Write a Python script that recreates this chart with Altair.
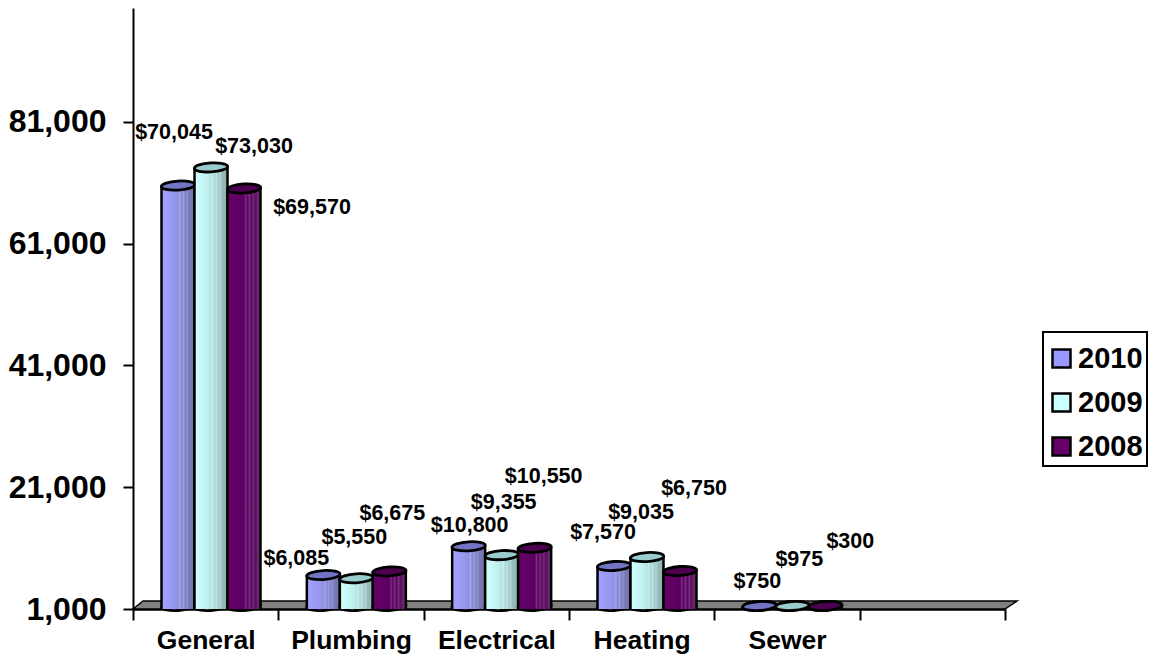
import altair as alt
import pandas as pd

categories = ["General", "Plumbing", "Electrical", "Heating", "Sewer"]
axis_domain = categories + [" "]
series = ["2010", "2009", "2008"]
v2010 = [70045, 6085, 10800, 7570, 750]
v2009 = [73030, 5550, 9355, 9035, 975]
v2008 = [69570, 6675, 10550, 6750, 300]
values = {"2010": v2010, "2009": v2009, "2008": v2008}
# Hand-placed label anchors from the picture (value height, px beside band start)
label_h = {"2010": [79300, 9400, 14800, 13600, 5600],
           "2009": [77000, 12800, 18600, 17000, 9200],
           "2008": [67000, 16800, 22800, 20900, 12200]}
label_dx = {"2010": [41, 18, 46, 34, 43],
            "2009": [121, 76, 80, 72, 85],
            "2008": [179, 114, 120, 125, 136]}
solid = ["#9999FF", "#CCFFFF", "#660066"]
tops = {"2010": "#7274C4", "2009": "#99CCCC", "2008": "#4E0050"}
stop_at = [0, 0.4, 0.5, 0.56, 0.62, 0.68, 0.74, 0.8, 0.86, 1]
stops = {
    "2010": ["#A2A2FF", "#9696EE", "#9090E0", "#A4A4EC", "#8686D0", "#9C9CE0", "#8080C4", "#9090D0", "#7878B8", "#7474AC"],
    "2009": ["#CFFFFF", "#BEF0EF", "#B4E4E2", "#CAEEEC", "#A8D6D4", "#C0E2E0", "#A0CCCA", "#B2D4D2", "#96BCBA", "#8FB4B2"],
    "2008": ["#660066", "#5E0062", "#58005E", "#7A2A80", "#5A0060", "#7A3080", "#5A0060", "#753078", "#5C0C62", "#6E3070"],
}

rows = []
for s in series:
    for i, c in enumerate(categories):
        rows.append({"cat": c, "series": s, "value": values[s][i],
                     "lh": label_h[s][i], "ldx": label_dx[s][i],
                     "label": "$" + format(values[s][i], ",")})
df = pd.DataFrame(rows)

YMIN, YMAX = 1000, 99700
FONT = "Liberation Sans"
x_enc = alt.X("cat:N", scale=alt.Scale(domain=axis_domain, type="band", paddingInner=0, paddingOuter=0),
              sort=axis_domain,
              axis=alt.Axis(title=None, tickBand="extent", labelAngle=0, labelFont=FONT, labelFontSize=26.5,
                            labelFontWeight="bold", labelColor="black", tickColor="black", tickWidth=2,
                            tickSize=11, domainColor="black", domainWidth=2.5, labelPadding=7,
                            grid=False))
y_scale = alt.Scale(domain=[YMIN, YMAX], zero=False, clamp=True, nice=False)
y_axis = alt.Axis(title=None, values=[1000, 21000, 41000, 61000, 81000],
                  labelExpr="format(datum.value, ',')",
                  labelFont=FONT, labelFontSize=32, labelFontWeight="bold", labelColor="black",
                  tickColor="black", tickWidth=2, tickSize=10, domainColor="black", domainWidth=2,
                  labelPadding=17, grid=False, minExtent=125, maxExtent=125)
y_enc = alt.Y("value:Q", scale=y_scale, axis=y_axis)
off_enc = alt.XOffset("series:N", scale=alt.Scale(type="point", domain=series, range=[45, 111], padding=0))

floor = alt.Chart(pd.DataFrame({"a": [0]})).mark_point(
    shape="M0,0L10,-8L884,-8L872,0Z", size=4, filled=True, fill="#808080",
    stroke="black", strokeWidth=1.5, opacity=1
).encode(x=alt.value(0), y=alt.value(601))

GLOBAL = alt.Chart(df)
# legend carrier, hidden underneath
legend_layer = GLOBAL.mark_bar(width=1, opacity=1, stroke="black", strokeWidth=2).encode(
    x=x_enc, xOffset=off_enc,
    y=y_enc,
    y2=alt.datum(YMIN),
    color=alt.Color("series:N", scale=alt.Scale(domain=series, range=solid),
                    legend=alt.Legend(title=" ", titleFontSize=4, titlePadding=4, orient="none",
                                      legendX=910, legendY=324, labelFont=FONT,
                                      labelFontSize=29, labelFontWeight="bold", labelColor="black",
                                      symbolType="square", symbolSize=324, symbolStrokeColor="black",
                                      symbolStrokeWidth=2.5, strokeColor="black", fillColor="white",
                                      padding=4, rowPadding=14, labelOffset=2, symbolOpacity=1)),
)

ELL = "M-1,0.06A1,0.27,-3.5,1,1,1,-0.06A1,0.27,-3.5,1,1,-1,0.06Z"
layers = [floor, legend_layer]
for s in series:
    sub = alt.Chart(df[df["series"] == s])
    grad = alt.Gradient(gradient="linear", x1=0, x2=1, y1=0, y2=0,
                        stops=[alt.GradientStop(offset=o, color=c)
                               for o, c in zip(stop_at, stops[s])])
    bottom = sub.mark_point(shape=ELL, size=1110, filled=True, fill=grad, stroke="black", strokeWidth=2.8,
                            opacity=1, yOffset=-3).encode(x=x_enc, xOffset=off_enc, y=alt.datum(YMIN, scale=y_scale))
    black = sub.mark_bar(width=35.5, color="black", yOffset=-3).encode(
        x=x_enc, xOffset=off_enc, y=y_enc, y2=alt.datum(YMIN))
    body = sub.mark_bar(width=30.5, fill=grad, yOffset=-3).encode(
        x=x_enc, xOffset=off_enc, y=y_enc, y2=alt.datum(YMIN))
    top = sub.mark_point(shape=ELL, size=1110, filled=True, fill=tops[s], stroke="black", strokeWidth=2.8,
                         opacity=1, yOffset=-3).encode(x=x_enc, xOffset=off_enc, y=y_enc)
    layers += [bottom, black, body, top]

labels = GLOBAL.mark_text(font=FONT, fontSize=21.5, fontWeight="bold", color="black", align="center",
                          baseline="middle", dy=1).encode(
    x=x_enc, xOffset=alt.XOffset("ldx:Q", scale=None),
    y=alt.Y("lh:Q", scale=y_scale, axis=y_axis), text="label:N")
layers.append(labels)

chart = alt.layer(*layers).properties(
    width=872, height=601, padding=0, background="white"
).configure_view(stroke=None).configure_legend(strokeWidth=2).resolve_scale(xOffset="independent")

chart.save("out.html", embed_options={"renderer": "svg", "actions": False})
